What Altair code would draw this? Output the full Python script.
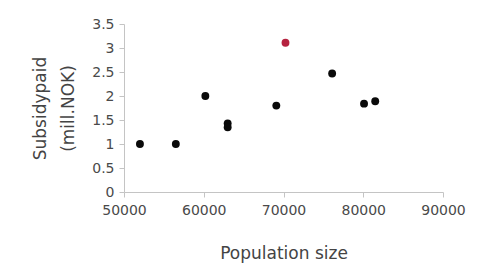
import altair as alt
import pandas as pd

population = [52000, 56500, 60200, 63000, 63000, 69100, 70250, 76100, 80100, 81500]
subsidy = [1.0, 1.0, 2.0, 1.43, 1.35, 1.8, 3.11, 2.47, 1.84, 1.89]
highlight = ["no", "no", "no", "no", "no", "no", "yes", "no", "no", "no"]

x_ticks = [50000, 60000, 70000, 80000, 90000]
y_ticks = [0, 0.5, 1, 1.5, 2, 2.5, 3, 3.5]

df = pd.DataFrame({"pop": population, "sub": subsidy, "hl": highlight})

font = "DejaVu Sans"

chart = alt.Chart(df).mark_circle(size=62, opacity=1).encode(
    x=alt.X("pop:Q",
            scale=alt.Scale(domain=[50000, 90000], nice=False, zero=False),
            axis=alt.Axis(values=x_ticks, title="Population size", format="d",
                          grid=False, tickSize=5, labelPadding=6,
                          titlePadding=28, labelFlush=False)),
    y=alt.Y("sub:Q",
            scale=alt.Scale(domain=[0, 3.5], nice=False),
            axis=alt.Axis(values=y_ticks, title=["Subsidypaid", "(mill.NOK)"],
                          format="~g",
                          grid=False, tickSize=5, labelPadding=5,
                          titlePadding=14, titleLineHeight=28)),
    color=alt.Color("hl:N", scale=alt.Scale(domain=["no", "yes"], range=["#0a0a0a", "#b5223f"]),
                    legend=None),
).properties(
    width=319, height=168,
    autosize=alt.AutoSizeParams(type="none"),
    padding={"left": 116, "top": 16, "right": 26, "bottom": 72},
    background="white",
).configure_view(
    stroke=None
).configure_axis(
    domainColor="#c4c4c4", tickColor="#c4c4c4",
    labelFont=font, labelFontSize=14, labelColor="#4a4a4a",
    titleFont=font, titleFontSize=17, titleColor="#444444", titleFontWeight="normal",
)

chart.save("out.html", embed_options={"renderer": "svg", "actions": False})
